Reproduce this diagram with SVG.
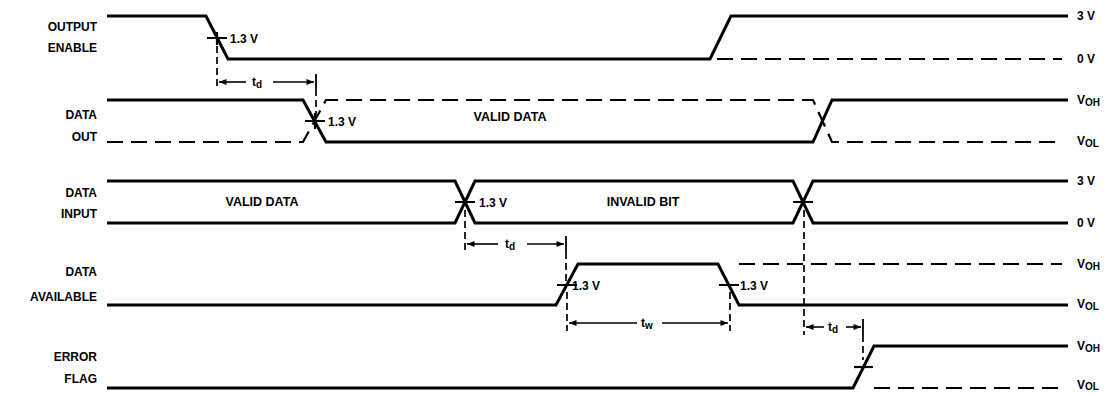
<svg xmlns="http://www.w3.org/2000/svg" width="1113" height="393" viewBox="0 0 1113 393">
<style>
.sig{stroke:#000;stroke-width:3;fill:none;stroke-linejoin:miter}
.dsig{stroke:#000;stroke-width:2.2;fill:none;stroke-dasharray:16 8}
.dim{stroke:#000;stroke-width:1.7;fill:none;stroke-dasharray:7 4}
.bar{stroke:#000;stroke-width:1.8;fill:none}
.tick{stroke:#000;stroke-width:2.2;fill:none}
.arr{stroke:#000;stroke-width:1.6;fill:none}
text{font-family:"Liberation Sans",Arial,sans-serif;font-weight:bold;font-size:12px;fill:#000}
.lbl{text-anchor:end}
.mid{text-anchor:middle;font-size:12.5px}
.sub{font-size:10px}
</style>
<defs>
<marker id="ah" viewBox="0 0 10 8" refX="10" refY="4" markerWidth="8" markerHeight="6" orient="auto-start-reverse" markerUnits="userSpaceOnUse">
<path d="M0,0 L10,4 L0,8 z" fill="#000"/>
</marker>
</defs>

<g id="output-enable">
<text class="lbl" x="97" y="31">OUTPUT</text>
<text class="lbl" x="97" y="52">ENABLE</text>
<path class="sig" d="M107,16 H206 L228,59 H710 L731,16 H1068"/>
<path class="dsig" d="M717,59 H1062"/>
<path class="tick" d="M207,38 H227 M217,32 V45"/>
<text x="230" y="43">1.3 V</text>
<text x="1077" y="20">3 V</text>
<text x="1077" y="63">0 V</text>
</g>

<g id="data-out">
<text class="lbl" x="97" y="119">DATA</text>
<text class="lbl" x="97" y="141">OUT</text>
<path class="sig" d="M107,100 H303 L326,142 H813 L832,100 H1068"/>
<path class="dsig" d="M107,142 H303 L326,100 H813 L832,142 H1062"/>
<path class="tick" d="M305,121 H325 M315,113 V129"/>
<text x="328" y="126">1.3 V</text>
<text class="mid" x="510" y="121">VALID DATA</text>
<text x="1077" y="104">V<tspan class="sub" dy="2">OH</tspan></text>
<text x="1077" y="145">V<tspan class="sub" dy="2">OL</tspan></text>
</g>

<g id="data-input">
<text class="lbl" x="97" y="197">DATA</text>
<text class="lbl" x="97" y="218">INPUT</text>
<path class="sig" d="M107,181 H455 L475,223 H793 L813,181 H1068"/>
<path class="sig" d="M107,223 H455 L475,181 H793 L813,223 H1068"/>
<path class="tick" d="M455,202 H475 M793,202 H813"/>
<text x="479" y="207">1.3 V</text>
<text class="mid" x="262" y="206">VALID DATA</text>
<text class="mid" x="643" y="206">INVALID BIT</text>
<text x="1077" y="185">3 V</text>
<text x="1077" y="227">0 V</text>
</g>

<g id="data-available">
<text class="lbl" x="97" y="276">DATA</text>
<text class="lbl" x="97" y="301">AVAILABLE</text>
<path class="sig" d="M107,305 H556 L578,264 H718 L739,305 H1068"/>
<path class="dsig" d="M739,264 H1062"/>
<path class="tick" d="M557,285 H577 M719,285 H739"/>
<text x="572" y="290">1.3 V</text>
<text x="740" y="290">1.3 V</text>
<text x="1077" y="268">V<tspan class="sub" dy="2">OH</tspan></text>
<text x="1077" y="308">V<tspan class="sub" dy="2">OL</tspan></text>
</g>

<g id="error-flag">
<text class="lbl" x="97" y="361">ERROR</text>
<text class="lbl" x="97" y="383">FLAG</text>
<path class="sig" d="M107,388 H853 L874,346 H1068"/>
<path class="dsig" d="M874,388 H1062"/>
<path class="tick" d="M854,367 H873"/>
<text x="1077" y="350">V<tspan class="sub" dy="2">OH</tspan></text>
<text x="1077" y="389">V<tspan class="sub" dy="1">OL</tspan></text>
</g>

<g id="connectors">
<path class="dim" d="M217,46 V89"/>
<path class="bar" d="M316,74 V89"/>
<path class="dim" d="M316,89 V115"/>
<path class="arr" d="M246,82 H219" marker-end="url(#ah)"/>
<path class="arr" d="M273,82 H314" marker-end="url(#ah)"/>
<text x="252" y="86">t<tspan class="sub" dy="2">d</tspan></text>
<path class="dim" d="M465,210 V251"/>
<path class="bar" d="M566,236 V252"/>
<path class="dim" d="M566,252 V282"/>
<path class="arr" d="M498,244 H467" marker-end="url(#ah)"/>
<path class="arr" d="M527,244 H564" marker-end="url(#ah)"/>
<text x="505" y="248">t<tspan class="sub" dy="2">d</tspan></text>
<path class="dim" d="M567,292 V331"/>
<path class="dim" d="M730,292 V331"/>
<path class="arr" d="M637,323 H569" marker-end="url(#ah)"/>
<path class="arr" d="M662,323 H728" marker-end="url(#ah)"/>
<text x="641" y="327">t<tspan class="sub" dy="2">w</tspan></text>
<path class="dim" d="M804,210 V335"/>
<path class="bar" d="M863,319 V335"/>
<path class="dim" d="M863,335 V360"/>
<path class="arr" d="M824,327 H806" marker-end="url(#ah)"/>
<path class="arr" d="M846,327 H861" marker-end="url(#ah)"/>
<text x="828" y="331">t<tspan class="sub" dy="2">d</tspan></text>
</g>
</svg>
